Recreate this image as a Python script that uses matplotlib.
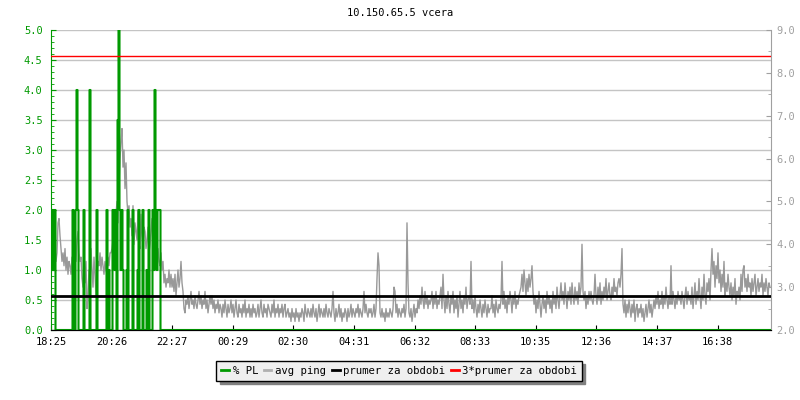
import matplotlib
matplotlib.use('Agg')
import numpy as np
import matplotlib.pyplot as plt
from matplotlib.lines import Line2D
from matplotlib.ticker import MultipleLocator, FormatStrFormatter

# avg ping (right axis), one sample every 2 minutes, starting 18:25
ping = [
    4.3, 4.1, 4.4, 4.2, 3.9, 3.6, 3.8, 4.5, 4.6, 4.2,
    3.9, 3.6, 3.8, 3.5, 3.9, 3.4, 3.7, 3.3, 3.6, 3.5,
    3.3, 3.7, 3.5, 3.4, 3.9, 3.6, 4.1, 4.3, 3.8, 3.6,
    3.7, 3.2, 3.0, 3.5, 3.1, 3.6, 2.5, 2.8, 3.4, 3.0,
    3.9, 3.4, 3.0, 3.7, 3.3, 2.8, 3.2, 3.6, 3.5, 3.8,
    3.4, 3.7, 3.5, 3.3, 3.6, 3.4, 3.3, 3.7, 3.5, 3.8,
    3.8, 3.9, 4.1, 3.8, 4.4, 4.7, 5.0, 4.5, 5.4, 6.0,
    6.4, 6.7, 5.8, 6.2, 5.3, 5.9, 5.0, 4.7, 4.9, 4.4,
    4.6, 4.2, 4.9, 4.0, 4.5, 4.3, 4.1, 4.8, 4.0, 3.9,
    4.7, 4.2, 4.0, 4.4, 4.3, 3.9, 4.1, 4.4, 3.8, 4.0,
    4.3, 4.6, 4.0, 3.8, 4.4, 4.2, 3.7, 3.9, 3.6, 3.5,
    3.8, 3.4, 3.6, 3.1, 3.3, 3.0, 3.2, 3.1, 3.4, 3.0,
    3.3, 3.0, 3.2, 2.9, 3.3, 2.8, 3.1, 3.4, 3.0, 3.2,
    3.6, 3.1, 2.9, 2.5, 2.4, 2.7, 2.6, 2.8, 2.5, 2.7,
    2.9, 2.6, 2.7, 2.5, 2.8, 2.6, 2.5, 2.7, 2.9, 2.6,
    2.8, 2.5, 2.7, 2.6, 2.9, 2.5, 2.7, 2.4, 2.6, 2.8,
    2.6, 2.8, 2.5, 2.7, 2.4, 2.6, 2.5, 2.7, 2.4, 2.6,
    2.5, 2.3, 2.6, 2.4, 2.7, 2.5, 2.3, 2.6, 2.4, 2.5,
    2.7, 2.4, 2.6, 2.3, 2.5, 2.7, 2.4, 2.3, 2.6, 2.4,
    2.5, 2.3, 2.6, 2.4, 2.7, 2.3, 2.5, 2.4, 2.6, 2.3,
    2.5, 2.3, 2.6, 2.4, 2.5, 2.3, 2.4, 2.6, 2.3, 2.5,
    2.7, 2.4, 2.3, 2.6, 2.4, 2.5, 2.3, 2.6, 2.5, 2.4,
    2.3, 2.6, 2.4, 2.7, 2.3, 2.5, 2.4, 2.6, 2.3, 2.5,
    2.4, 2.6, 2.3, 2.5, 2.6, 2.3, 2.4, 2.5, 2.3, 2.4,
    2.2, 2.5, 2.3, 2.4, 2.2, 2.5, 2.3, 2.4, 2.2, 2.4,
    2.3, 2.5, 2.4, 2.2, 2.6, 2.4, 2.3, 2.5, 2.4, 2.3,
    2.5, 2.3, 2.6, 2.4, 2.3, 2.5, 2.2, 2.4, 2.6, 2.3,
    2.5, 2.4, 2.3, 2.5, 2.3, 2.6, 2.4, 2.3, 2.5, 2.4,
    2.3, 2.5, 2.9, 2.4, 2.2, 2.5, 2.3, 2.4, 2.6, 2.3,
    2.5, 2.2, 2.4, 2.3, 2.5, 2.4, 2.2, 2.5, 2.3, 2.4,
    2.6, 2.3, 2.5, 2.4, 2.3, 2.5, 2.4, 2.6, 2.3, 2.5,
    2.4, 2.3, 2.5, 2.9, 2.4, 2.6, 2.4, 2.3, 2.5, 2.4,
    2.5, 2.3, 2.4, 2.6, 2.3, 2.5, 3.2, 3.8, 3.5, 2.4,
    2.3, 2.5, 2.3, 2.4, 2.2, 2.5, 2.3, 2.4, 2.3, 2.5,
    2.4, 2.3, 2.5, 3.0, 2.9, 2.4, 2.6, 2.3, 2.5, 2.4,
    2.3, 2.5, 2.4, 2.6, 2.3, 2.5, 4.5, 3.1, 2.4, 2.3,
    2.5, 2.2, 2.4, 2.6, 2.3, 2.5, 2.4, 2.7, 2.5, 2.8,
    2.6, 3.0, 2.7, 2.5, 2.9, 2.6, 2.8, 2.5, 2.7, 2.6,
    2.7, 2.9, 2.5, 2.8, 2.6, 2.9, 2.5, 2.7, 2.6, 2.8,
    3.0, 2.5, 3.3, 2.7, 2.4, 2.8, 2.5, 2.9, 2.6, 2.4,
    2.8, 2.6, 2.9, 2.4, 2.7, 2.5, 2.8, 2.3, 2.6, 2.9,
    2.5, 2.7, 2.4, 2.8, 2.6, 3.0, 2.5, 2.7, 2.8, 2.6,
    3.6, 2.5, 2.7, 2.4, 2.8, 2.5, 2.3, 2.6, 2.4, 2.7,
    2.5, 2.3, 2.6, 2.4, 2.7, 2.5, 2.3, 2.6, 2.4, 2.5,
    2.5, 2.8, 2.4, 2.6, 2.3, 2.7, 2.5, 2.4, 2.6, 2.5,
    2.7, 3.6, 2.6, 2.9, 2.5, 2.7, 2.4, 2.8, 2.6, 2.9,
    2.7, 2.4, 2.8, 2.6, 2.9, 2.5, 2.7, 2.6, 2.8, 2.9,
    3.0, 3.3, 2.9, 3.4, 3.1, 2.8, 3.2, 2.9, 3.3, 3.0,
    3.2, 3.5, 2.9, 2.6, 2.8, 2.4, 2.7, 2.5, 2.9, 2.6,
    2.3, 2.6, 2.8, 2.5, 2.7, 2.4, 2.9, 2.6, 2.8, 2.5,
    2.7, 2.4, 2.9, 2.6, 2.8, 2.5, 3.0, 2.7, 2.5, 2.8,
    3.1, 2.7, 2.9, 2.6, 3.1, 2.8, 2.5, 2.9, 2.7, 3.0,
    2.6, 3.1, 2.8, 2.6, 3.0, 2.7, 2.9, 2.6, 3.1, 2.8,
    3.0, 4.0, 2.9, 2.7, 2.9, 2.5, 2.8, 2.6, 2.9, 2.7,
    2.9, 2.7, 2.6, 2.8, 3.3, 2.8, 2.6, 3.0, 2.7, 3.1,
    2.6, 2.9, 2.7, 3.0, 2.8, 3.2, 2.7, 2.9, 3.1, 2.8,
    2.7, 3.0, 2.8, 3.2, 2.9, 3.0, 2.8, 3.1, 3.2, 3.0,
    3.3, 3.9, 2.6, 2.4, 2.7, 2.3, 2.6, 2.4, 2.7, 2.5,
    2.3, 2.6, 2.4, 2.7, 2.2, 2.5, 2.6, 2.3, 2.5, 2.4,
    2.6, 2.3, 2.5, 2.2, 2.4, 2.6, 2.3, 2.5, 2.7, 2.4,
    2.6, 2.3, 2.5, 2.7, 2.5, 2.8, 2.6, 2.9, 2.5, 2.7,
    2.6, 2.9, 2.5, 2.8, 2.6, 3.0, 2.7, 2.5, 2.8, 2.6,
    3.5, 2.6, 2.9, 2.7, 2.5, 2.8, 2.6, 2.9, 2.7, 2.8,
    2.6, 2.9, 2.7, 2.5, 2.8, 3.0, 2.6, 2.9, 2.7, 2.8,
    2.6, 3.0, 2.5, 2.8, 3.1, 2.6, 2.9, 2.7, 3.2, 2.8,
    2.5, 3.0, 2.7, 3.3, 2.8, 2.6, 3.1, 2.9, 3.2, 2.7,
    3.4, 3.9, 3.3, 3.6, 3.0, 3.5, 3.2, 3.8, 3.1, 3.4,
    2.9, 3.3, 3.0, 3.6, 2.8, 3.1, 2.9, 3.3, 3.0, 2.8,
    3.1, 2.7, 3.0, 2.8, 3.2, 2.6, 2.9, 2.8, 3.0, 2.7,
    3.3, 2.9, 3.4, 3.5, 3.0, 3.2, 2.9, 3.3, 3.0, 3.1,
    2.8, 3.2, 2.9, 3.1, 3.3, 2.8, 3.0, 3.2, 2.9, 3.1,
    3.0, 3.3, 2.8, 3.1, 2.9, 3.2, 3.0, 2.8, 3.1, 3.0,
]
ping_step = 2  # minutes

# packet loss (left axis): minutes after 18:25 with nonzero loss, 2 minute samples
pl_min = [0, 2, 4, 6, 8, 44, 50, 52, 54, 66, 78, 92, 112, 116,
          124, 126, 128, 130, 134, 136, 138, 140, 142, 144,
          152, 154, 164, 174, 176, 184, 192, 196, 204, 206, 208,
          210, 212, 214, 216, 218]
pl_val = [1, 2, 2, 1, 2, 2, 2, 4, 2, 2, 4, 2, 2, 1,
          2, 2, 1, 2, 3.5, 5, 2, 1, 2, 1,
          1, 2, 2, 1, 2, 2, 1, 2, 2, 1, 4,
          2, 1, 2, 2, 2]
pl_step = 2

avg_ping = 2.8

time_labels = ['18:25', '20:26', '22:27', '00:29', '02:30', '04:31',
               '06:32', '08:33', '10:35', '12:36', '14:37', '16:38']
tick_step = 121.2  # minutes between labelled ticks

ping_t = np.arange(len(ping)) * ping_step
pl_t = np.arange(0, 1441, pl_step)
pl = np.zeros(len(pl_t))
pl[np.array(pl_min) // pl_step] = pl_val

plt.rcParams['font.family'] = 'DejaVu Sans Mono'
plt.rcParams['font.size'] = 7.5

green = '#009900'
grey = '#999999'

fig = plt.figure(figsize=(8, 4), dpi=100)
ax1 = fig.add_axes([51/800, 70/400, 720/800, 300/400])
ax2 = ax1.twinx()
ax2.patch.set_visible(False)

ax1.set_xlim(0, 1440)
ax1.set_ylim(0, 5)

ax1.yaxis.grid(True, color='#c4c4c4', lw=1)
ax1.set_axisbelow(True)

ax2.plot(ping_t, ping, color=grey, lw=1, zorder=1)
ax2.plot(pl_t, pl, color=green, lw=1.5, drawstyle='steps-mid',
         transform=ax1.transData, zorder=2)
ax2.axhline(avg_ping, color='black', lw=2, zorder=3)
ax2.axhline(3 * avg_ping, color='#ff0000', lw=1, zorder=3)
ax2.set_ylim(2, 9)
ax2.set_xlim(0, 1440)

# left axis
ax1.yaxis.set_major_locator(MultipleLocator(0.5))
ax1.yaxis.set_minor_locator(MultipleLocator(0.1))
ax1.yaxis.set_major_formatter(FormatStrFormatter('%.1f'))
ax1.tick_params(axis='y', which='both', direction='in', colors=green, pad=6)
ax1.tick_params(axis='y', which='major', length=3.6)
ax1.tick_params(axis='y', which='minor', length=2.4)
ax1.spines['left'].set_color(green)
ax1.spines['top'].set_visible(False)
ax1.spines['right'].set_visible(False)

# x axis
ax1.set_xticks(np.arange(len(time_labels)) * tick_step)
ax1.set_xticklabels(time_labels)
ax1.tick_params(axis='x', direction='in', length=3.6, pad=5, colors='black')

# right axis
ax2.yaxis.set_major_locator(MultipleLocator(1.0))
ax2.yaxis.set_minor_locator(MultipleLocator(0.5))
ax2.yaxis.set_major_formatter(FormatStrFormatter('%.1f'))
ax2.tick_params(axis='y', which='both', direction='in', colors='#a0a0a0', pad=4)
ax2.tick_params(axis='y', which='major', length=3.6)
ax2.tick_params(axis='y', which='minor', length=2.4)
ax2.spines['right'].set_color('#a0a0a0')
ax2.spines['bottom'].set_color('black')
ax2.spines['bottom'].set_zorder(5)
for s in ['left', 'top']:
    ax2.spines[s].set_visible(False)

fig.text(0.5, 1 - 13/400, '10.150.65.5 vcera', ha='center', va='center')

handles = [Line2D([], [], color=green, lw=2),
           Line2D([], [], color='#b0b0b0', lw=2),
           Line2D([], [], color='black', lw=2),
           Line2D([], [], color='#ff0000', lw=2)]
labels = ['% PL', 'avg ping', 'prumer za obdobi', '3*prumer za obdobi']
fig.legend(handles, labels, loc='center', bbox_to_anchor=(0.499, 1 - 371/400),
           ncol=4, frameon=True, fancybox=False, framealpha=1,
           edgecolor='black', facecolor='#efefef',
           shadow={'ox': 2.2, 'oy': -2.2, 'color': '#808080', 'alpha': 1},
           handlelength=0.7, handletextpad=0.35, columnspacing=0.55,
           borderpad=0.45, fontsize=7.7)

fig.savefig('out.png', dpi=100)
